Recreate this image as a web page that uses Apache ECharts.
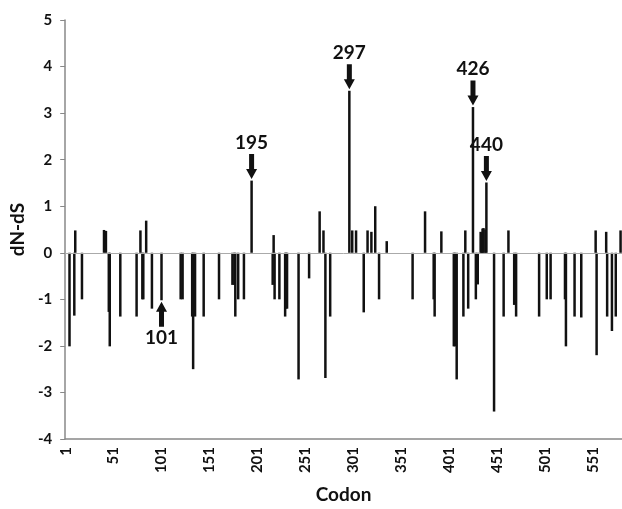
<!DOCTYPE html>
<html>
<head>
<meta charset="utf-8">
<script src="https://cdn.jsdelivr.net/npm/echarts@6/dist/echarts.min.js"></script>
<style>
  html, body { margin: 0; padding: 0; background: #fff; }
  #chart { width: 622px; height: 509px; }
</style>
</head>
<body>
<div id="chart"></div>
<script>
// codon positions and dN-dS values
var codonCount = 581;
var codons = [5, 10, 11, 18, 41, 43, 46, 47, 58, 75, 79, 81, 82, 85, 91, 101, 121, 123, 133, 134,
    136, 145, 161, 175, 177, 178, 181, 187, 195, 217, 218, 219, 224, 230, 231, 232, 244, 255, 266, 270,
    272, 277, 297, 300, 304, 312, 316, 320, 324, 328, 336, 363, 376, 385, 386, 393, 406, 407, 409, 416,
    418, 421, 426, 429, 431, 434, 435, 436, 437, 439, 440, 448, 458, 463, 469, 471, 495, 503, 507, 522,
    523, 532, 539, 554, 555, 565, 566, 571, 575, 580];
var dnds = [-2.01, -1.35, 0.48, -1.0, 0.49, 0.47, -1.27, -2.01, -1.37, -1.37, 0.48, -1.0, -1.0, 0.69, -1.2, -1.02, -1.0, -1.0, -1.37, -2.5,
    -1.37, -1.37, -1.0, -0.69, -0.69, -1.37, -1.0, -1.0, 1.55, -0.69, 0.38, -1.0, -1.0, -1.37, -1.2, -1.2, -2.72, -0.55, 0.89, 0.48,
    -2.69, -1.37, 3.48, 0.48, 0.48, -1.28, 0.48, 0.45, 1.0, -1.0, 0.25, -1.0, 0.89, -1.0, -1.37, 0.46, -2.01, -2.01, -2.72, -1.37,
    0.48, -1.2, 3.13, -1.0, -0.68, 0.45, 0.43, 0.52, 0.53, 0.5, 1.51, -3.41, -1.37, 0.48, -1.12, -1.37, -1.37, -1.0, -1.0, -1.0,
    -2.01, -1.37, -1.39, 0.48, -2.2, 0.45, -1.37, -1.68, -1.37, 0.48];

// highlighted codons (arrows)
var markedCodons = [101, 195, 297, 426, 440];
var yTicks = { min: -4, max: 5, step: 1 };

var categories = [];
var barData = [];
for (var i = 1; i <= codonCount; i++) {
    categories.push(String(i));
    barData.push('-');
}
for (var j = 0; j < codons.length; j++) {
    barData[codons[j] - 1] = dnds[j];
}

var downArrow = 'path://M3,0 L8,0 L8,15 L11,15 L5.5,25 L0,15 L3,15 Z';
var upArrow = 'path://M5.5,0 L11,10 L8,10 L8,25 L3,25 L3,10 L0,10 Z';

var marks = [];
for (var k = 0; k < markedCodons.length; k++) {
    var c = markedCodons[k];
    var v = barData[c - 1];
    var up = v < 0;
    marks.push({
        coord: [String(c), v],
        value: String(c),
        symbol: up ? upArrow : downArrow,
        symbolOffset: [0, up ? 14 : -14],
        label: { position: up ? 'bottom' : 'top', distance: 2 }
    });
}

var font = 'Lato';
var chart = echarts.init(document.getElementById('chart'));

option = {
    animation: false,
    grid: {
        left: 62,
        right: 0,
        top: 20,
        bottom: 67
    },
    xAxis: {
        type: 'category',
        data: categories,
        name: 'Codon',
        nameLocation: 'middle',
        nameGap: 46,
        nameTextStyle: { fontFamily: font, fontWeight: 'bold', fontSize: 19, color: '#111' },
        axisLine: { onZero: false, lineStyle: { color: '#888', width: 1.5 } },
        axisTick: { show: false },
        axisLabel: {
            interval: 49,
            rotate: 90,
            margin: 8,
            fontFamily: font,
            fontWeight: 'bold',
            fontSize: 15,
            color: '#111'
        }
    },
    yAxis: {
        type: 'value',
        min: yTicks.min,
        max: yTicks.max,
        interval: yTicks.step,
        name: 'dN-dS',
        nameLocation: 'middle',
        nameGap: 34,
        nameTextStyle: { fontFamily: font, fontWeight: 'bold', fontSize: 19, color: '#111' },
        axisLine: { show: true, lineStyle: { color: '#888', width: 1.5 } },
        axisTick: { show: true, length: 5, lineStyle: { color: '#888' } },
        splitLine: { show: false },
        axisLabel: {
            margin: 13,
            fontFamily: font,
            fontWeight: 'bold',
            fontSize: 15,
            color: '#111'
        }
    },
    series: [
        {
            type: 'bar',
            data: barData,
            barWidth: 2.5,
            itemStyle: { color: '#111' },
            markLine: {
                silent: true,
                symbol: 'none',
                label: { show: false },
                lineStyle: { color: '#aaa', width: 1, type: 'solid' },
                data: [{ yAxis: 0 }]
            },
            markPoint: {
                silent: true,
                symbolSize: [11, 25],
                itemStyle: { color: '#111' },
                label: {
                    show: true,
                    formatter: '{c}',
                    color: '#111',
                    fontFamily: font,
                    fontWeight: 'bold',
                    fontSize: 19
                },
                data: marks
            }
        }
    ]
};
chart.setOption(option);
</script>
</body>
</html>
